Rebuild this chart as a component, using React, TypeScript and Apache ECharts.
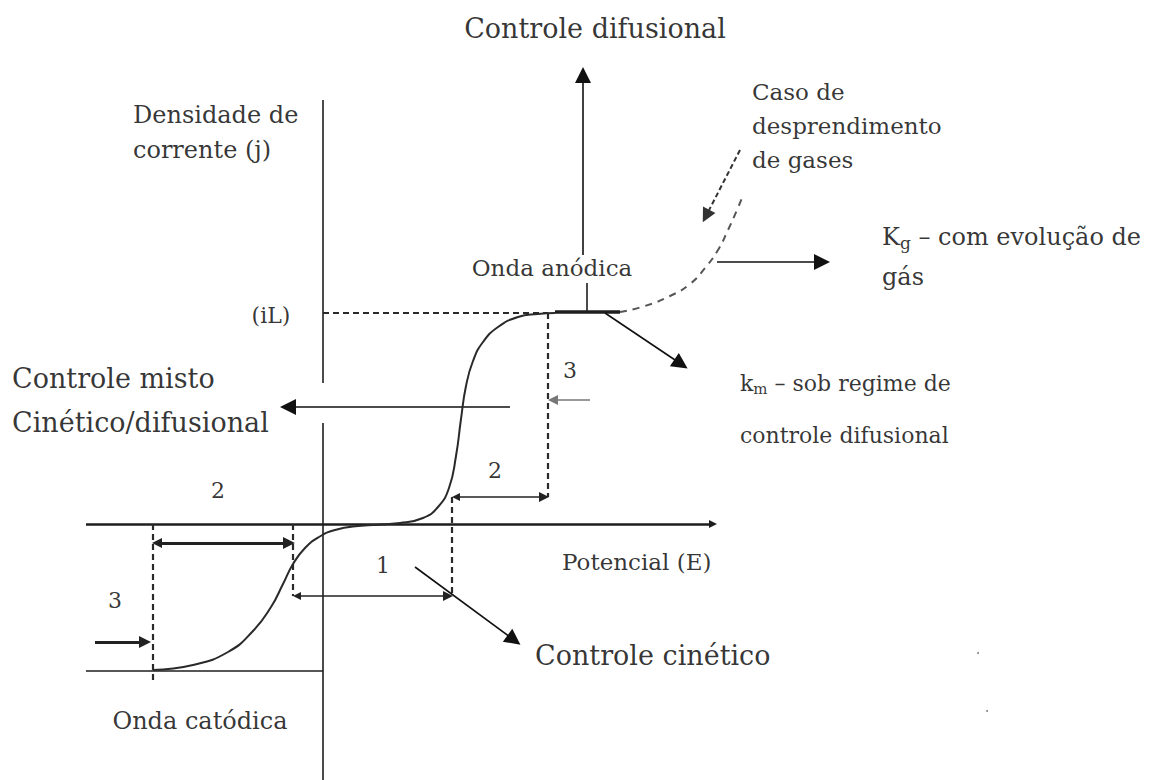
import { useEffect, useRef } from "react";
import * as echarts from "echarts";

// Diagram units: E = potential (origin at the j axis), J = current density (origin at the E axis)
const curveE = [-170, -130, -95, -70, -52, -40, -30, -18, -4, 12, 35, 77, 100, 115, 126, 133, 138, 143, 150, 160, 175, 195, 215, 232];
const curveJ = [-146, -141, -128, -107, -83, -60, -40, -24, -13, -6, -2, 1, 6, 17, 36, 68, 105, 138, 163, 182, 197, 207, 210, 211];

const gasE = [297, 322, 347, 367, 382, 395, 405, 414, 419];
const gasJ = [212, 218, 228, 240, 256, 274, 294, 314, 326];

const plateau = [[232, 212], [297, 212]];
const limitCurrentJ = 211;

// plain solid segments: j axis (with gap), lower bound, plateau tick
const solidSegments = [
  [[0, 424], [0, 141]],
  [[0, 101], [0, -256]],
  [[-237, -147], [0, -147]],
  [[264, 212], [264, 241]],
];
const potentialAxis = [[-237, 0], [390, 0]];

const dashedSegments = [
  [[0, limitCurrentJ], [225, limitCurrentJ]],
  [[225, limitCurrentJ], [225, 27]],
  [[129, 27], [129, -72]],
  [[-30, 0], [-30, -72]],
  [[-170, 0], [-170, -156]],
];

const bigArrows = [
  [[260, 269], [260, 449]],
  [[187, 117], [-35, 117]],
  [[92, -43], [191, -116]],
  [[282, 211], [358, 160]],
  [[394, 262], [499, 262]],
];
const dashedArrow = [[[417, 374], [383, 308]]];

const doubleArrows = [
  [[133, 27], [221, 27]],
  [[-26, -72], [125, -72]],
];
const thickDoubleArrows = [[[-166, -19], [-34, -19]]];
const thickSingleArrows = [[[-228, -118], [-178, -118]]];
const greySingleArrows = [[[267, 124], [230, 124]]];

const labelTexts = [
  "Controle difusional",
  "Densidade de",
  "corrente (j)",
  "Caso de",
  "desprendimento",
  "de gases",
  "{b|K}{s|g}{b| – com evolução de}",
  "gás",
  "Onda anódica",
  "(iL)",
  "Controle misto",
  "Cinético/difusional",
  "{b|k}{s|m}{b| – sob regime de}",
  "controle difusional",
  "Potencial (E)",
  "Controle cinético",
  "Onda catódica",
  "2",
  "3",
  "1",
  "2",
  "3",
];
const labelAnchors = [
  [272, 496],
  [-190, 409],
  [-190, 374],
  [429, 432],
  [429, 398],
  [429, 364],
  [559, 287],
  [559, 247],
  [229, 256],
  [-52, 209],
  [-311, 146],
  [-311, 102],
  [417, 141],
  [417, 89],
  [239, -38],
  [212, -131],
  [-123, -197],
  [172, 54],
  [247, 154],
  [60, -41],
  [-105, 34],
  [-208, -76],
];
const specks = [[655, -129], [664, -187]];

const FONT = "DejaVu Serif";
const labelSizes = [27, 24, 24, 23, 23, 23, 24, 24, 23, 22, 27, 27, 22, 22, 23, 27, 24, 22, 22, 22, 22, 22];
const labelAligns = ["center", "left", "left", "left", "left", "left", "left", "left", "center", "center", "left", "left", "left", "left", "left", "left", "center", "center", "center", "center", "center", "center"];

const toLines = (segs: number[][][]) => segs.map((s) => ({ coords: s }));

export default function App() {
  const ref = useRef<HTMLDivElement>(null);
  useEffect(() => {
    document.body.style.margin = "0";
    const chart = echarts.init(ref.current!, null, { renderer: "svg" });
    const ink = "#1e1e1e";
    const text = "#000";
    const option = {
      animation: false,
      backgroundColor: "#ffffff",
      grid: { left: 0, right: 0, top: 0, bottom: 0, containLabel: false },
      xAxis: { type: "value", min: -323, max: 851, show: false },
      yAxis: { type: "value", min: -256, max: 524, show: false },
      series: [
        {
          type: "lines",
          coordinateSystem: "cartesian2d",
          symbol: ["none", "none"],
          lineStyle: { color: ink, width: 1.6, opacity: 1, curveness: 0 },
          data: toLines(solidSegments),
          silent: true,
        },
        {
          type: "lines",
          coordinateSystem: "cartesian2d",
          symbol: ["none", "triangle"],
          symbolSize: [7, 8],
          lineStyle: { color: ink, width: 2.6, opacity: 1 },
          data: toLines([potentialAxis]),
          silent: true,
        },
        {
          type: "line",
          data: curveE.map((e, i) => [e, curveJ[i]]),
          smooth: 0.5,
          symbol: "none",
          lineStyle: { color: "#2a2a2a", width: 2 },
          silent: true,
        },
        {
          type: "lines",
          coordinateSystem: "cartesian2d",
          symbol: ["none", "none"],
          lineStyle: { color: ink, width: 3.5, opacity: 1 },
          data: toLines([plateau]),
          silent: true,
        },
        {
          type: "line",
          data: gasE.map((e, i) => [e, gasJ[i]]),
          smooth: 0.5,
          symbol: "none",
          lineStyle: { color: "#555", width: 2, type: [7, 6] },
          silent: true,
        },
        {
          type: "lines",
          coordinateSystem: "cartesian2d",
          symbol: ["none", "none"],
          lineStyle: { color: "#2a2a2a", width: 2.2, type: [6, 4], opacity: 1 },
          data: toLines(dashedSegments),
          silent: true,
        },
        {
          type: "lines",
          coordinateSystem: "cartesian2d",
          symbol: ["none", "triangle"],
          symbolSize: [13, 16],
          lineStyle: { color: "#111", width: 1.6, opacity: 1 },
          data: toLines(bigArrows),
          silent: true,
        },
        {
          type: "lines",
          coordinateSystem: "cartesian2d",
          symbol: ["none", "triangle"],
          symbolSize: [10, 14],
          lineStyle: { color: "#333", width: 2, type: [5, 3], opacity: 1 },
          data: toLines(dashedArrow),
          silent: true,
        },
        {
          type: "lines",
          coordinateSystem: "cartesian2d",
          symbol: ["triangle", "triangle"],
          symbolSize: [8, 10],
          lineStyle: { color: "#222", width: 1.6, opacity: 1 },
          data: toLines(doubleArrows),
          silent: true,
        },
        {
          type: "lines",
          coordinateSystem: "cartesian2d",
          symbol: ["triangle", "triangle"],
          symbolSize: [10, 12],
          lineStyle: { color: "#222", width: 2.8, opacity: 1 },
          data: toLines(thickDoubleArrows),
          silent: true,
        },
        {
          type: "lines",
          coordinateSystem: "cartesian2d",
          symbol: ["none", "triangle"],
          symbolSize: [10, 12],
          lineStyle: { color: "#222", width: 2.8, opacity: 1 },
          data: toLines(thickSingleArrows),
          silent: true,
        },
        {
          type: "lines",
          coordinateSystem: "cartesian2d",
          symbol: ["none", "triangle"],
          symbolSize: [8, 10],
          lineStyle: { color: "#777", width: 1.6, opacity: 1 },
          data: toLines(greySingleArrows),
          silent: true,
        },
        {
          type: "scatter",
          symbolSize: 2,
          itemStyle: { color: "#666" },
          data: specks,
          silent: true,
        },
        {
          type: "scatter",
          symbolSize: 1,
          itemStyle: { color: "rgba(0,0,0,0)" },
          silent: true,
          data: labelTexts.map((t, i) => ({
            value: labelAnchors[i],
            name: t,
            label: {
              show: true,
              position: "inside",
              formatter: t,
              align: labelAligns[i],
              verticalAlign: "middle",
              fontFamily: FONT,
              fontSize: labelSizes[i],
              color: text,
              rich: {
                b: { fontFamily: FONT, fontSize: labelSizes[i], color: text },
                s: { fontFamily: FONT, fontSize: Math.round(labelSizes[i] * 0.7), color: text, padding: [12, 0, 0, 0] },
              },
            },
          })),
        },
      ],
    };
    chart.setOption(option as any);
    return () => chart.dispose();
  }, []);
  return <div ref={ref} style={{ width: "1174px", height: "780px" }} />;
}
